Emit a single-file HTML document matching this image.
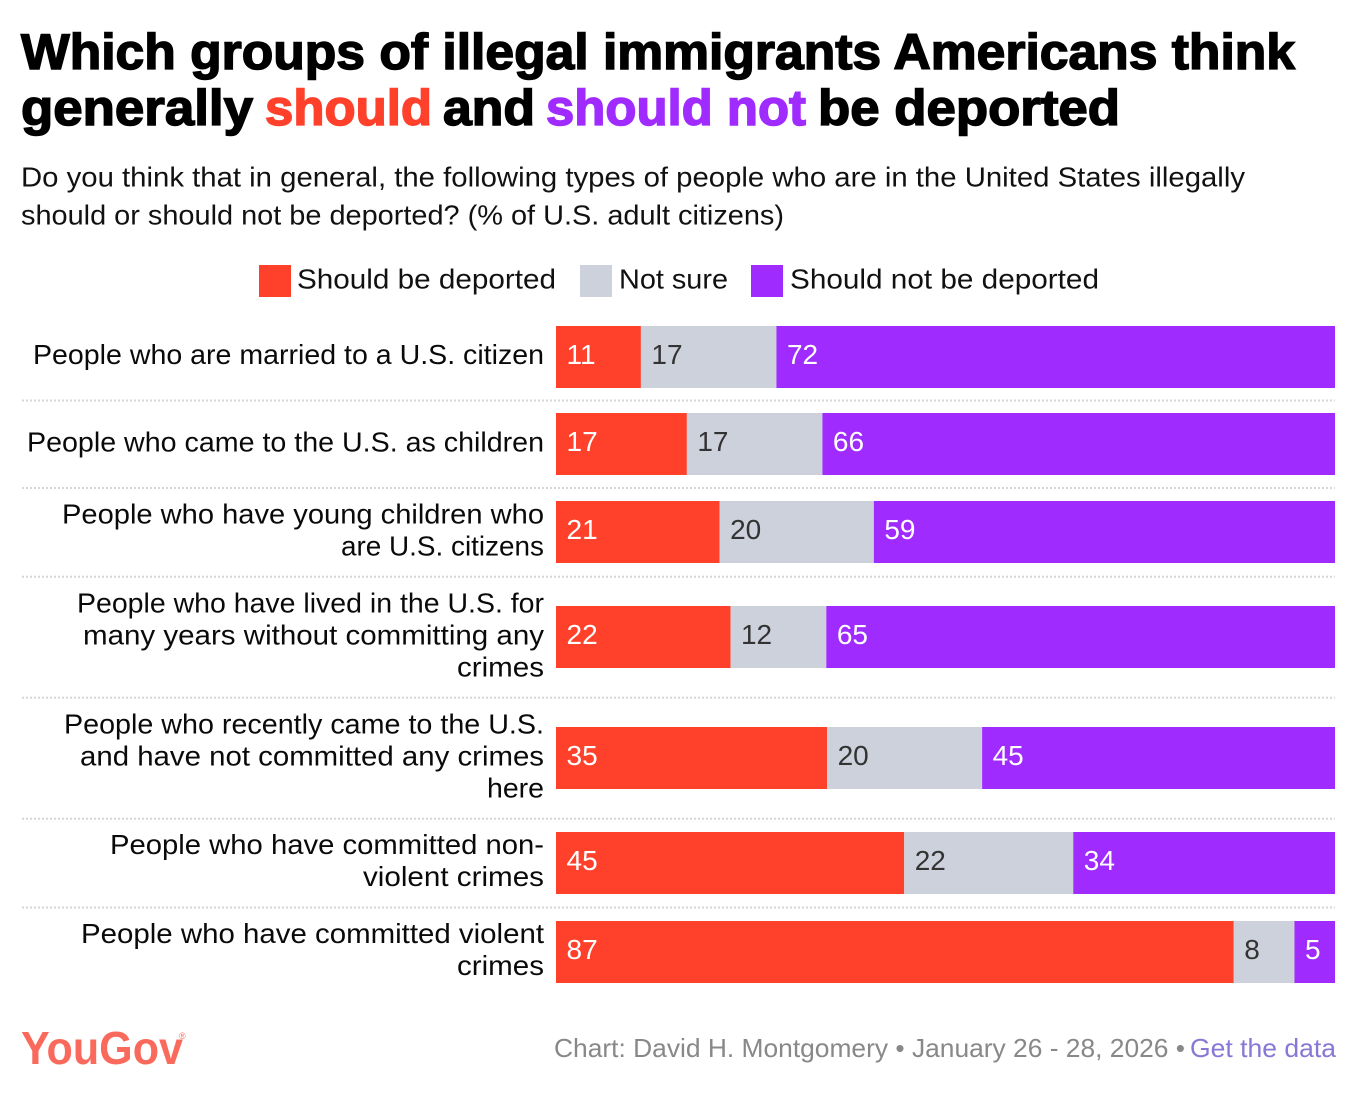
<!DOCTYPE html>
<html lang="en">
<head>
<meta charset="utf-8">
<title>Which groups of illegal immigrants Americans think generally should and should not be deported</title>
<style>
html,body{margin:0;padding:0;background:#fff;width:1372px;height:1098px;overflow:hidden}
svg{display:block;font-family:"Liberation Sans",sans-serif}
.title{font-size:50px;font-weight:700;stroke-width:1.5px;paint-order:stroke}
.body{font-size:28px;fill:#111}
.leg{font-size:28px;fill:#111}
.row-label{font-size:28px;fill:#0a0a0a}
.val{font-size:28px}
.foot{font-size:26px}
</style>
</head>
<body>
<svg id="chart" width="1372" height="1098" viewBox="0 0 1372 1098" xmlns="http://www.w3.org/2000/svg">
  <rect width="1372" height="1098" fill="#fff"/>
  <g>
    <text class="title" x="21" y="69" textLength="1274" lengthAdjust="spacingAndGlyphs" fill="#000" stroke="#000">Which groups of illegal immigrants Americans think</text>
    <text class="title" x="21" y="125" textLength="232" lengthAdjust="spacingAndGlyphs" fill="#000" stroke="#000">generally</text>
    <text class="title" x="265" y="125" textLength="167" lengthAdjust="spacingAndGlyphs" fill="#ff412c" stroke="#ff412c">should</text>
    <text class="title" x="443" y="125" textLength="92" lengthAdjust="spacingAndGlyphs" fill="#000" stroke="#000">and</text>
    <text class="title" x="546" y="125" textLength="260" lengthAdjust="spacingAndGlyphs" fill="#a02bff" stroke="#a02bff">should not</text>
    <text class="title" x="818" y="125" textLength="302" lengthAdjust="spacingAndGlyphs" fill="#000" stroke="#000">be deported</text>
  </g>
  <g>
    <text class="body" x="21" y="186.5" textLength="1224" lengthAdjust="spacingAndGlyphs">Do you think that in general, the following types of people who are in the United States illegally</text>
    <text class="body" x="21" y="224.5" textLength="763" lengthAdjust="spacingAndGlyphs">should or should not be deported? (% of U.S. adult citizens)</text>
  </g>
  <g>
    <g>
      <rect x="259" y="265" width="32" height="32" fill="#ff412c"/>
      <text class="leg" x="297" y="288.5" textLength="259" lengthAdjust="spacingAndGlyphs">Should be deported</text>
    </g>
    <g>
      <rect x="580" y="265" width="32" height="32" fill="#cdd1dc"/>
      <text class="leg" x="619" y="288.5" textLength="109" lengthAdjust="spacingAndGlyphs">Not sure</text>
    </g>
    <g>
      <rect x="751" y="265" width="32" height="32" fill="#a02bff"/>
      <text class="leg" x="790" y="288.5" textLength="309" lengthAdjust="spacingAndGlyphs">Should not be deported</text>
    </g>
  </g>
  <g id="rows"></g>
  <g>
    <text x="21" y="1064" font-size="46" font-weight="700" fill="#f96a5c" textLength="162" lengthAdjust="spacingAndGlyphs">YouGov</text>
    <text x="179" y="1039" font-size="9" fill="#f96a5c">®</text>
  </g>
  <g>
    <text class="foot" x="554" y="1057" fill="#888" textLength="631" lengthAdjust="spacingAndGlyphs">Chart: David H. Montgomery • January 26 - 28, 2026 •</text>
    <text class="foot" x="1190" y="1057" fill="#8678d4" textLength="146" lengthAdjust="spacingAndGlyphs">Get the data</text>
  </g>
</svg>
<script>
const categories = [
  ["People who are married to a U.S. citizen"],
  ["People who came to the U.S. as children"],
  ["People who have young children who", "are U.S. citizens"],
  ["People who have lived in the U.S. for", "many years without committing any", "crimes"],
  ["People who recently came to the U.S.", "and have not committed any crimes", "here"],
  ["People who have committed non-", "violent crimes"],
  ["People who have committed violent", "crimes"]
];
const deported = [10.9, 16.8, 21.0, 22.4, 34.8, 44.7, 87.0];
const notSure = [17.4, 17.4, 19.8, 12.3, 19.9, 21.7, 7.8];
const notDeported = [71.7, 65.8, 59.2, 65.3, 45.3, 33.6, 5.2];

const NS = 'http://www.w3.org/2000/svg';
const rowsGroup = document.getElementById('rows');
const plotLeft = 556, plotWidth = 779, barHeight = 62;
const xScale = function (v) { return plotWidth * v / 100; };
const rowHeight = function (lines) { return lines === 1 ? 87.5 : lines === 2 ? 88.75 : 121; };

/* Typographic fit: rendered width of each label line, keyed by its text. */
const labelFit = new Map([
  ["People who are married to a U.S. citizen", 511],
  ["People who came to the U.S. as children", 517],
  ["People who have young children who", 482],
  ["are U.S. citizens", 203],
  ["People who have lived in the U.S. for", 467],
  ["many years without committing any", 461],
  ["crimes", 87],
  ["People who recently came to the U.S.", 480],
  ["and have not committed any crimes", 464],
  ["here", 57],
  ["People who have committed non-", 434],
  ["violent crimes", 181],
  ["People who have committed violent", 463]
]);

function makeEl(tag, attrs, parent) {
  const el = document.createElementNS(NS, tag);
  Object.keys(attrs).forEach(function (k) { el.setAttribute(k, attrs[k]); });
  parent.appendChild(el);
  return el;
}

const seriesDefs = [
  { key: 'should-be-deported', values: deported, fill: '#ff412c', text: '#ffffff' },
  { key: 'not-sure', values: notSure, fill: '#cdd1dc', text: '#333333' },
  { key: 'should-not-be-deported', values: notDeported, fill: '#a02bff', text: '#ffffff' }
];

let cursorY = 313;
categories.forEach(function (lines, i) {
  const h = rowHeight(lines.length);
  const cy = cursorY + h / 2;
  const g = makeEl('g', {}, rowsGroup);
  
  

  lines.forEach(function (line, j) {
    const t = makeEl('text', {
      'class': 'row-label',
      x: 544,
      y: cy + (j - (lines.length - 1) / 2) * 32 + 7,
      'text-anchor': 'end',
      textLength: labelFit.get(line),
      lengthAdjust: 'spacingAndGlyphs'
    }, g);
    
    
    t.textContent = line;
  });

  let cumulative = 0;
  const barTop = Math.round(cy - barHeight / 2);
  seriesDefs.forEach(function (s) {
    const v = s.values[i];
    const x0 = plotLeft + xScale(cumulative);
    const w = xScale(v);
    const bar = makeEl('rect', { x: x0, y: barTop, width: w, height: barHeight, fill: s.fill }, g);
    
    
    const lab = makeEl('text', { 'class': 'val', x: x0 + 10.5, y: barTop + 38, fill: s.text }, g);
    
    
    lab.textContent = String(Math.round(v));
    cumulative += v;
  });

  cursorY += h;
  if (i < categories.length - 1) {
    const sep = makeEl('line', {
      x1: 22, x2: 1335, y1: cursorY, y2: cursorY,
      stroke: '#d6d6d6', 'stroke-width': 2, 'stroke-dasharray': '2 2'
    }, rowsGroup);
    
    
  }
});
</script>
</body>
</html>
